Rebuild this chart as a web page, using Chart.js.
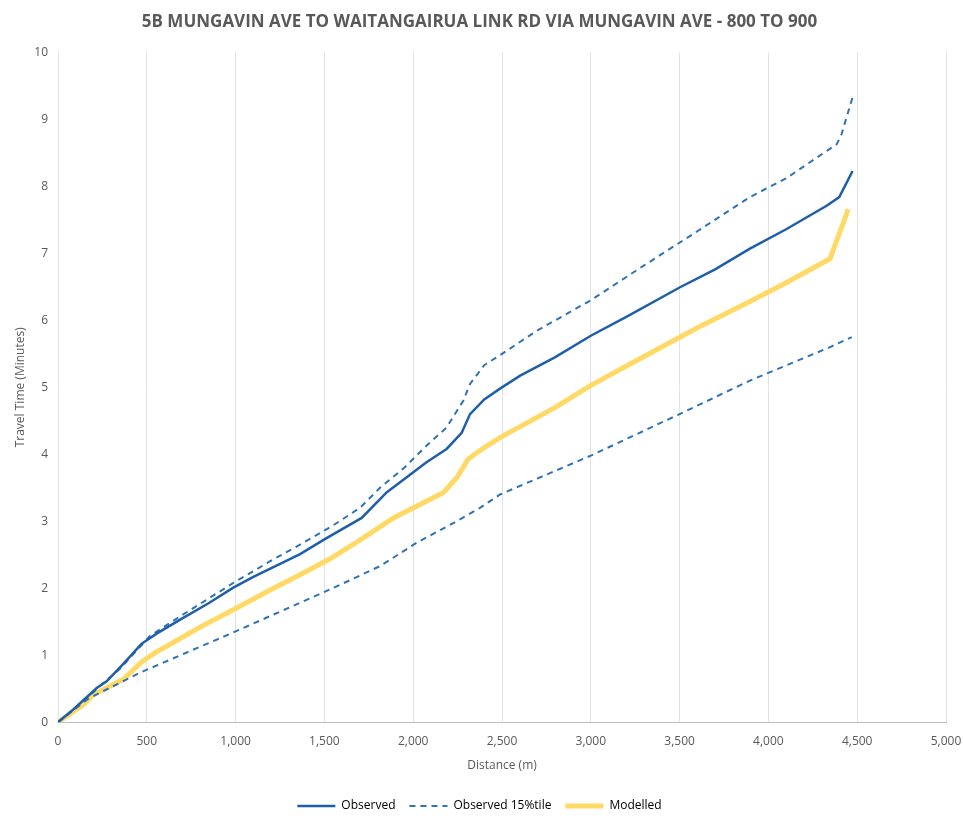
<!DOCTYPE html>
<html>
<head>
<meta charset="utf-8">
<script src="https://cdn.jsdelivr.net/npm/chart.js@4.4.1/dist/chart.umd.min.js"></script>
<style>
  html,body{margin:0;padding:0;background:#fff;}
  #chart{display:block;}
</style>
</head>
<body>
<canvas id="chart" width="963" height="816"></canvas>
<script>
// observed median
const obsDist=[0,86,218,274,360,470,560,700,850,987,1100,1363,1500,1710,1850,2075,2188,2273,2320,2400,2489,2600,2800,3000,3200,3500,3700,3896,4100,4328,4399,4474];
const obsTime=[0,0.19,0.51,0.61,0.85,1.17,1.33,1.55,1.78,2.01,2.17,2.51,2.73,3.05,3.43,3.88,4.08,4.32,4.6,4.82,4.98,5.17,5.45,5.77,6.05,6.49,6.76,7.07,7.36,7.71,7.84,8.23];

// upper dashed line
const highDist=[0,143,236,350,518,700,1000,1212,1363,1550,1700,1813,1950,2076,2188,2282,2320,2400,2500,2700,3000,3300,3600,3896,4100,4385,4412,4474];
const highTime=[0,0.31,0.54,0.8,1.29,1.6,2.1,2.43,2.65,2.94,3.2,3.5,3.8,4.13,4.4,4.8,5.05,5.33,5.5,5.85,6.3,6.82,7.33,7.84,8.12,8.63,8.78,9.33];

// lower dashed line
const lowDist=[0,170,462,987,1513,1644,1813,2020,2245,2376,2489,3000,3500,3896,4347,4469];
const lowTime=[0,0.35,0.74,1.34,1.96,2.12,2.33,2.68,3.0,3.2,3.4,3.98,4.6,5.1,5.6,5.75];

// modelled
const modDist=[0,143,199,368,471,555,649,800,987,1200,1363,1532,1700,1889,2171,2245,2310,2400,2489,2800,3000,3300,3600,3896,4100,4347,4450];
const modTime=[0,0.26,0.41,0.64,0.9,1.05,1.19,1.42,1.68,1.98,2.2,2.44,2.72,3.05,3.43,3.65,3.93,4.1,4.25,4.7,5.03,5.46,5.89,6.28,6.56,6.92,7.66];

const seriesNames=['Observed','Observed 15%tile','Modelled','Observed 85%tile'];

function pts(xs,ys){
    return xs.map((x,i)=>({x:x,y:ys[i]}));
}

const grey='#595959';
const font="'Open Sans', sans-serif";

let chart=document.getElementById("chart");

new Chart(chart,{
    type:"scatter",
    data:{
        datasets:[
            {
                label:seriesNames[0],
                data:pts(obsDist,obsTime),
                borderColor:'#1F5FAA',
                borderWidth:2.5,
                showLine:true,
                pointRadius:0,
                order:2
            },
            {
                label:seriesNames[1],
                data:pts(lowDist,lowTime),
                borderColor:'#2E72B8',
                borderWidth:2,
                borderDash:[6,5],
                showLine:true,
                pointRadius:0,
                order:3
            },
            {
                label:seriesNames[2],
                data:pts(modDist,modTime),
                borderColor:'#FFD966',
                borderWidth:5,
                showLine:true,
                pointRadius:0,
                order:4
            },
            {
                label:seriesNames[3],
                data:pts(highDist,highTime),
                borderColor:'#2E72B8',
                borderWidth:2,
                borderDash:[6,5],
                showLine:true,
                pointRadius:0,
                order:3
            }
        ]
    },
    options:{
        responsive:false,
        animation:false,
        layout:{
            padding:{left:13,right:17,top:0,bottom:-6}
        },
        plugins:{
            title:{
                display:true,
                text:'5B MUNGAVIN AVE TO WAITANGAIRUA LINK RD VIA MUNGAVIN AVE - 800 TO 900',
                color:grey,
                font:{family:font,size:17,weight:'bold'},
                padding:{top:12,bottom:20}
            },
            legend:{
                display:true,
                position:'bottom',
                labels:{
                    usePointStyle:true,
                    pointStyle:'line',
                    pointStyleWidth:38,
                    boxHeight:8,
                    color:grey,
                    padding:14,
                    font:{family:font,size:12},
                    generateLabels:c=>c.data.datasets.map((ds,i)=>({
                        text:ds.label,
                        strokeStyle:ds.borderColor,
                        fillStyle:ds.borderColor,
                        lineWidth:ds.borderWidth,
                        lineDash:ds.borderDash||[],
                        pointStyle:'line',
                        datasetIndex:i
                    })),
                    filter:item=>item.datasetIndex!==3
                }
            },
            tooltip:{enabled:false}
        },
        scales:{
            x:{
                type:'linear',
                min:0,
                max:5000,
                ticks:{
                    stepSize:500,
                    color:grey,
                    font:{family:font,size:12},
                    padding:12,
                    maxRotation:0,
                    callback:v=>v.toLocaleString('en-US')
                },
                grid:{color:'#E3E3E3',drawTicks:false},
                border:{color:'#BFBFBF',width:1},
                title:{
                    display:true,
                    text:'Distance (m)',
                    color:grey,
                    font:{family:font,size:12},
                    padding:{top:-2,bottom:13}
                },
                afterFit:s=>{s.paddingLeft=0;s.paddingRight=0;}
            },
            y:{
                min:0,
                max:10,
                ticks:{
                    stepSize:1,
                    color:grey,
                    font:{family:font,size:12},
                    padding:10
                },
                grid:{display:false,drawTicks:false},
                border:{display:false},
                title:{
                    display:true,
                    text:'Travel Time (Minutes)',
                    color:grey,
                    font:{family:font,size:12},
                    padding:{top:0,bottom:6}
                },
                afterFit:s=>{s.width=45;}
            }
        }
    }
});
</script>
</body>
</html>
